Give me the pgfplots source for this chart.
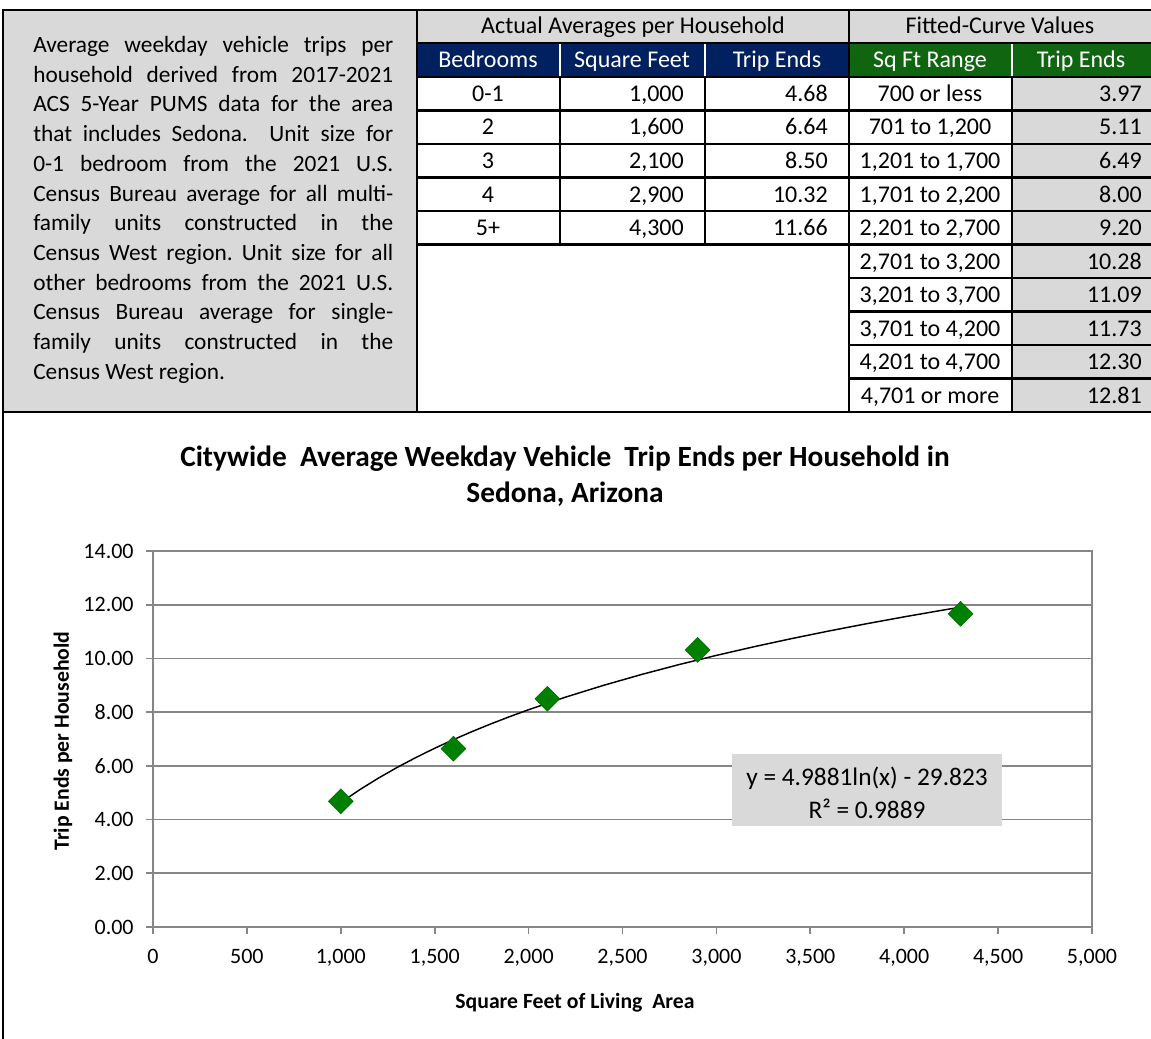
\documentclass[border=0pt]{standalone}
\usepackage{fontspec}
\setmainfont{Carlito}
\usepackage{pgfplots}
\pgfplotsset{compat=1.18}
\definecolor{navy}{RGB}{0,32,96}
\definecolor{hgreen}{RGB}{16,102,16}
\definecolor{lgray}{RGB}{217,217,217}
\definecolor{dgreen}{RGB}{0,128,0}
\definecolor{gridgray}{RGB}{134,134,134}
\newcommand{\tf}{\fontsize{18}{21}\selectfont}
\newcommand{\bx}[1]{\makebox[270pt][s]{#1}}
\frenchspacing
\begin{document}
\begin{tikzpicture}
\begin{scope}[x=0.75pt,y=-0.75pt]
\path[use as bounding box] (0,0) rectangle (1151,1038);
% fills
\fill[lgray] (3,10) rectangle (417,412);
\fill[lgray] (417,10) rectangle (1151,43);
\fill[navy] (417,43) rectangle (849,77);
\fill[hgreen] (849,43) rectangle (1151,77);
\fill[lgray] (1012,77) rectangle (1151,412);
\draw[white, line width=2pt] (560,43)--(560,77) (705,43)--(705,77) (1012,43)--(1012,77);
% black grid of the table
\begin{scope}[line width=2.2pt, line cap=rect]
\draw (3,10)--(1151,10);
\draw (417,43)--(1151,43);
\draw (417,77)--(1151,77);
\foreach \y in {110.5,144,177.5,211,244.5} \draw (417,\y)--(1151,\y);
\foreach \y in {278,311.5,345,378.5} \draw (849,\y)--(1151,\y);
\draw (3,412)--(1151,412);
\draw (3,10)--(3,1038);
\draw (417,10)--(417,412);
\draw (849,10)--(849,412);
\draw (560,77)--(560,244.5) (705,77)--(705,244.5);
\draw (1012,77)--(1012,412);
\end{scope}
% text box lines
\begin{scope}[every node/.style={anchor=base west, inner sep=0pt, font=\fontsize{17.5}{21}\selectfont}]
\node at (33,52.5) {\bx{Average weekday vehicle trips per}};
\node at (33,82.2) {\bx{household derived from 2017-2021}};
\node at (33,111.9) {\bx{ACS 5-Year PUMS data for the area}};
\node at (33,141.6) {\bx{that includes Sedona.\ \ Unit size for}};
\node at (33,171.3) {\bx{0-1 bedroom from the 2021 U.S.}};
\node at (33,201.0) {\bx{Census Bureau average for all multi-}};
\node at (33,230.7) {\bx{family units constructed in the}};
\node at (33,260.4) {\bx{Census West region. Unit size for all}};
\node at (33,290.1) {\bx{other bedrooms from the 2021 U.S.}};
\node at (33,319.8) {\bx{Census Bureau average for single-}};
\node at (33,349.5) {\bx{family units constructed in the}};
\node at (33,379.2) {Census West region.};
\end{scope}
% table text
\begin{scope}[every node/.style={inner sep=0pt, font=\tf}]
\node[anchor=base] at (633,34) {Actual Averages per Household};
\node[anchor=base] at (1000,34) {Fitted-Curve Values};
\node[anchor=base, text=white] at (488,68) {Bedrooms};
\node[anchor=base, text=white] at (632,68) {Square Feet};
\node[anchor=base, text=white] at (777,68) {Trip Ends};
\node[anchor=base, text=white] at (930,68) {Sq Ft Range};
\node[anchor=base, text=white] at (1081,68) {Trip Ends};
\foreach \b/\s/\t [count=\i from 0] in {0-1/{1,000}/4.68, 2/{1,600}/6.64, 3/{2,100}/8.50, 4/{2,900}/10.32, 5+/{4,300}/11.66}{
  \node[anchor=base] at (488,{101.5+33.5*\i}) {\b};
  \node[anchor=base east] at (684,{101.5+33.5*\i}) {\s};
  \node[anchor=base east] at (828,{101.5+33.5*\i}) {\t};
}
\foreach \r/\v [count=\i from 0] in {700 or less/3.97, {701 to 1,200}/5.11, {1,201 to 1,700}/6.49, {1,701 to 2,200}/8.00, {2,201 to 2,700}/9.20, {2,701 to 3,200}/10.28, {3,201 to 3,700}/11.09, {3,701 to 4,200}/11.73, {4,201 to 4,700}/12.30, {4,701 or more}/12.81}{
  \node[anchor=base] at (930,{101.5+33.5*\i}) {\r};
  \node[anchor=base east] at (1142,{101.5+33.5*\i}) {\v};
}
\end{scope}
% chart title and labels
\node[anchor=base, inner sep=0pt, font=\bfseries\fontsize{22}{26}\selectfont] at (565,466) {Citywide\ \ Average Weekday Vehicle\ \ Trip Ends per Household in};
\node[anchor=base, inner sep=0pt, font=\bfseries\fontsize{22}{26}\selectfont] at (565,502) {Sedona, Arizona};
\node[anchor=base, inner sep=0pt, font=\bfseries\fontsize{16.3}{19}\selectfont] at (575,1008) {Square Feet of Living\ \ Area};
\node[rotate=90, inner sep=0pt, font=\bfseries\fontsize{16.3}{19}\selectfont] at (63,741) {Trip Ends per Household};
\end{scope}
\begin{axis}[
  at={(114.75pt,-695.25pt)}, anchor=south west,
  scale only axis, width=704.25pt, height=282pt,
  xmin=0, xmax=5000, ymin=0, ymax=14,
  xtick={0,500,...,5000}, ytick={0,2,...,14},
  xtick pos=bottom, ytick pos=left,
  axis line style={draw=gridgray, line width=1.3pt},
  ymajorgrids, grid style={draw=gridgray, line width=1.3pt},
  tick align=outside, major tick length=5pt,
  tick style={draw=gridgray, line width=1.3pt},
  scaled x ticks=false,
  ticklabel style={font=\fontsize{16.5}{20}\selectfont},
  xticklabel style={yshift=-8pt},
  yticklabel style={xshift=-6pt},
  /pgf/number format/assume math mode=true,
  xticklabel style={/pgf/number format/.cd, fixed, 1000 sep={,}},
  yticklabel style={/pgf/number format/.cd, fixed, fixed zerofill, precision=2},
  clip=false,
]
\addplot[only marks, mark=square*, mark size=6.6pt, mark options={rotate=45, fill=dgreen, draw=dgreen!85!black}]
  coordinates {(1000,4.68) (1600,6.64) (2100,8.50) (2900,10.32) (4300,11.66)};
\addplot[black, line width=1.1pt] coordinates {
(1000,4.6336) (1100,5.1090) (1200,5.5430) (1300,5.9423) (1400,6.3119) (1500,6.6561)
(1600,6.9780) (1700,7.2804) (1800,7.5655) (1900,7.8352) (2000,8.0911) (2200,8.5665)
(2400,9.0005) (2600,9.3998) (2800,9.7694) (3000,10.1136) (3200,10.4355) (3400,10.7379)
(3600,11.0230) (3800,11.2927) (4000,11.5486) (4200,11.7919) (4300,11.9093)};
\end{axis}
\begin{scope}[x=0.75pt,y=-0.75pt]
\fill[lgray] (732,754) rectangle (1002,826);
\node[anchor=base, inner sep=0pt, font=\fontsize{19}{23}\selectfont] at (867,785) {y = 4.9881ln(x) - 29.823};
\node[anchor=base, inner sep=0pt, font=\fontsize{19}{23}\selectfont] at (867,818) {R² = 0.9889};
\end{scope}
\end{tikzpicture}
\end{document}
